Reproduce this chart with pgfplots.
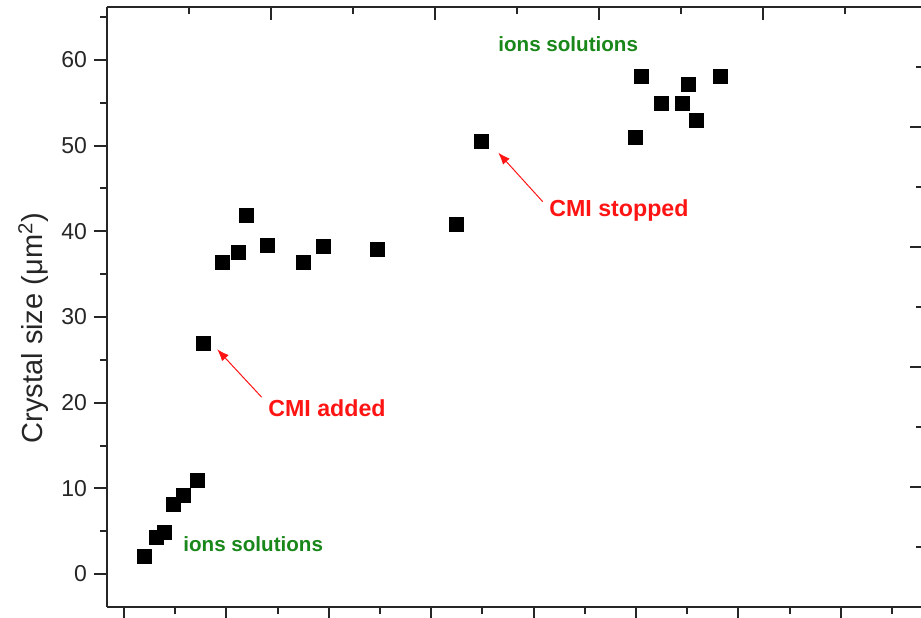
\documentclass[border=0pt]{standalone}
\usepackage{pgfplots}
\pgfplotsset{compat=1.18}
\usetikzlibrary{arrows.meta}
\usepackage{fontspec}
\setmainfont{Liberation Sans}
\definecolor{annred}{RGB}{255,20,20}
\definecolor{anngreen}{RGB}{25,135,25}

\begin{document}
\begin{tikzpicture}
\begin{axis}[
  scale only axis,
  width=408pt, height=300pt,
  xmin=-1.66, xmax=78.03,
  ymin=-3.85, ymax=66.18,
  axis x line*=bottom, axis y line*=left,
  axis line style={line width=1pt, black!85},
  tick align=outside,
  major tick length=6.5pt, minor tick length=3.5pt,
  every tick/.style={line width=1pt, black!85},
  xtick={0,10,...,70}, minor xtick={5,15,...,75},
  xticklabels={},
  ytick={0,10,...,60}, minor ytick={-5,5,...,65},
  /pgf/number format/assume math mode=true,
  yticklabel style={font=\fontsize{11.5}{13}\selectfont, black!85},
  ylabel={Crystal size (μm\textsuperscript{2})},
  every axis y label/.style={at={(axis description cs:-0.09,0.465)}, rotate=90, anchor=center,
    font=\fontsize{14.5}{17}\selectfont, black!85},
  clip=false,
]
\addplot[only marks, mark=square*, mark size=3.5pt, black] coordinates {
  (1.98,2.0) (3.19,4.24) (3.91,4.82) (4.81,8.17) (5.79,9.22) (7.20,10.97)
  (7.78,26.93) (9.57,36.38) (11.20,37.55) (11.98,41.9) (13.96,38.3)
  (17.55,36.4) (19.43,38.29) (24.70,37.94) (32.49,40.85) (34.93,50.54)
  (49.90,50.97) (50.49,58.05) (52.47,54.94) (54.49,54.94) (55.08,57.16)
  (55.86,52.95) (58.27,58.05)
};
\node[anchor=base west, inner sep=0pt, text=anngreen, font=\bfseries\fontsize{10.3}{12}\selectfont] at (axis cs:36.52,60.93) {ions solutions};
\node[anchor=base west, inner sep=0pt, text=anngreen, font=\bfseries\fontsize{10.3}{12}\selectfont] at (axis cs:5.76,2.68) {ions solutions};
\node[anchor=base west, inner sep=0pt, text=annred, font=\bfseries\fontsize{11.6}{14}\selectfont] at (axis cs:14.06,18.33) {CMI added};
\node[anchor=base west, inner sep=0pt, text=annred, font=\bfseries\fontsize{11.6}{14}\selectfont] at (axis cs:41.50,41.67) {CMI stopped};
\draw[annred, line width=0.5pt, -{Latex[length=6pt,width=4.5pt]}] (axis cs:13.45,20.63) -- (axis cs:9.10,26.23);
\draw[annred, line width=0.5pt, -{Latex[length=6pt,width=4.5pt]}] (axis cs:40.89,43.46) -- (axis cs:36.55,49.18);
\end{axis}
\begin{axis}[
  scale only axis,
  width=408pt, height=300pt,
  xmin=0, xmax=4.976, ymin=0, ymax=5,
  axis x line*=top, axis y line*=right,
  axis line style={line width=1pt, black!85},
  tick align=inside,
  major tick length=6.5pt, minor tick length=3.5pt,
  every tick/.style={line width=1pt, black!85},
  xtick={0,1,...,4}, minor xtick={0.5,1.5,...,4.5},
  ytick={0,1,...,5}, minor ytick={0.5,1.5,...,4.5},
  xticklabels={}, yticklabels={},
]
\addplot[draw=none] coordinates {(0,0)};
\end{axis}
\pgfresetboundingbox
\path[use as bounding box] (-53.5pt,-5pt) rectangle (407pt,303.5pt);
\end{tikzpicture}
\end{document}
